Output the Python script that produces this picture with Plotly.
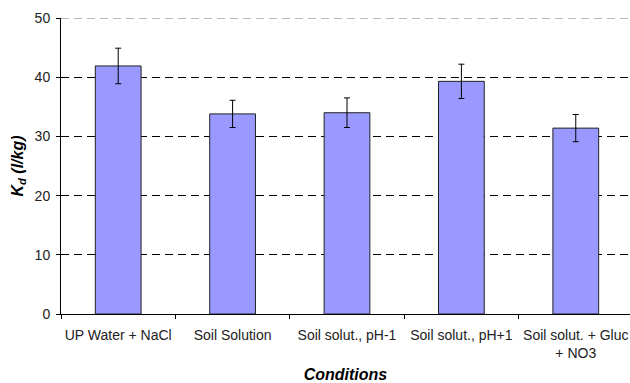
import plotly.graph_objects as go

categories = ["UP Water + NaCl", "Soil Solution", "Soil solut., pH-1", "Soil solut., pH+1", "Soil solut. + Gluc<br>+ NO3"]
kd_values = [41.9, 33.8, 34.0, 39.3, 31.4]
kd_errors = [3.0, 2.3, 2.5, 2.9, 2.3]
y_ticks = [0, 10, 20, 30, 40, 50]

fig = go.Figure()
fig.add_trace(go.Bar(
    x=categories, y=kd_values, width=0.4,
    marker=dict(color="#9999FF", line=dict(color="#222222", width=1)),
    error_y=dict(type="data", array=kd_errors, visible=True, color="black", thickness=1, width=3),
))

# top gridline at the maximum tick (plotly omits the gridline on the range edge)
fig.add_shape(type="line", xref="paper", yref="y", x0=0, x1=1, y0=max(y_ticks), y1=max(y_ticks),
              line=dict(color="#777777", width=1, dash="8px,5px"), layer="below")

fig.update_layout(
    width=630, height=383,
    margin=dict(l=61, r=0, t=18, b=69),
    paper_bgcolor="white", plot_bgcolor="white",
    showlegend=False,
    font=dict(family="Liberation Sans, Arial, sans-serif", size=14, color="black"),
    xaxis=dict(
        range=[-0.5, 4.474],
        tickson="boundaries", ticks="outside", ticklen=4, tickcolor="black",
        tickangle=0, ticklabelstandoff=8,
        showline=True, linecolor="black", linewidth=1,
        showgrid=False, automargin=False,
        tickfont=dict(size=14, color="#222222"),
        title=dict(text="<b><i>Conditions</i></b>", font=dict(size=16), standoff=9),
    ),
    yaxis=dict(
        range=[0, 50], tickvals=y_ticks,
        ticks="outside", ticklen=4, tickcolor="black",
        showline=True, linecolor="black", linewidth=1,
        showgrid=True, gridcolor="black", gridwidth=1, griddash="8px,5px",
        zeroline=False, automargin=False, ticklabelstandoff=3,
        tickfont=dict(size=14, color="#222222"),
        title=dict(text="<b><i>K<sub>d</sub> (l/kg)</i></b>", font=dict(size=16), standoff=7),
    ),
)

fig.write_html("out.html")
